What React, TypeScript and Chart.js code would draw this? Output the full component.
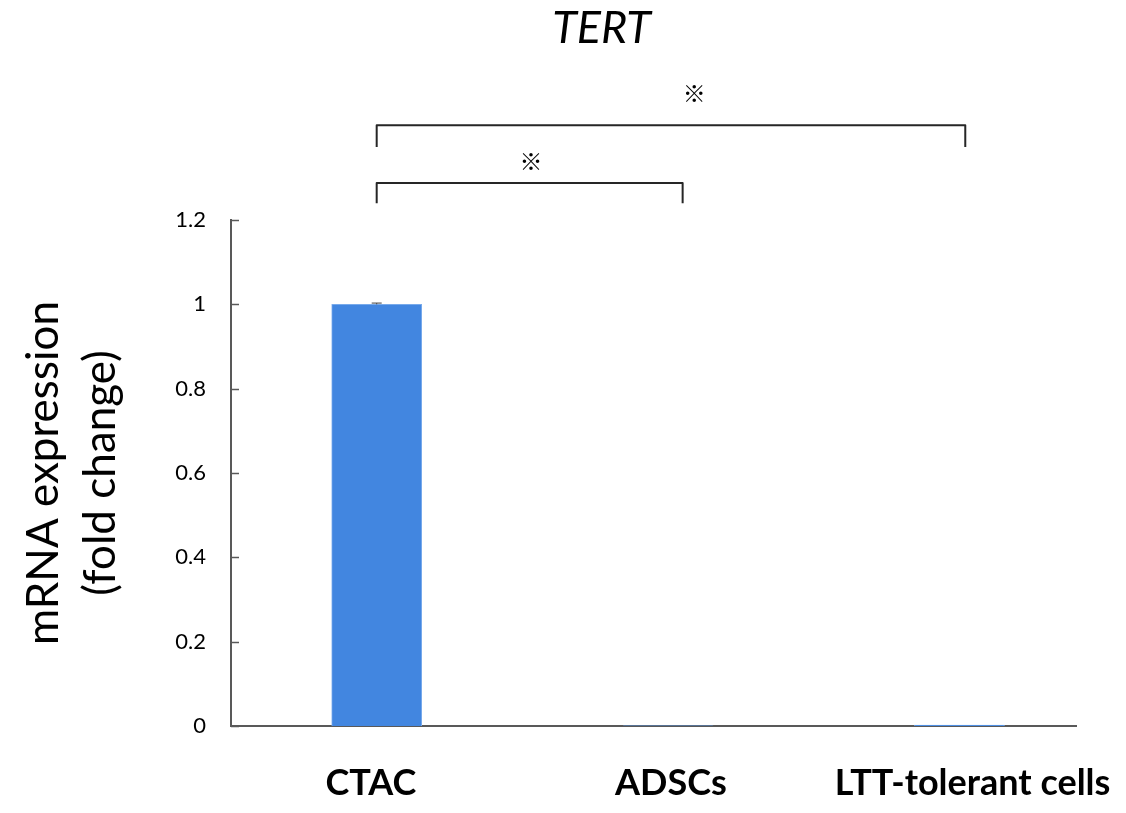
import React, { useEffect, useRef } from 'react';
import { Chart, registerables } from 'chart.js';

Chart.register(...registerables);

const titleText = 'TERT';
const categories = ['CTAC', 'ADSCs', 'LTT-tolerant cells'];
const categoryPositions = [0, 1, 2];
const labelPositions = [-0.02, 1.01, 2.045];
const values = [1, 0.0003, 0.002];
const errors = [0.003, 0, 0];
const yTickValues = [0, 0.2, 0.4, 0.6, 0.8, 1, 1.2];
const yAxisTitle = ['mRNA expression', '(fold change)'];

// significance brackets (data units)
const bracketFrom = [0, 0];
const bracketTo = [1.05, 2.02];
const bracketTop = [1.288, 1.425];
const bracketLegEnd = [1.24, 1.373];
const bracketMarkX = [0.53, 1.09];
const bracketMarkY = [1.34, 1.501];
const bracketMark = ['※', '※'];

const FONT = 'Lato, "Noto Sans", sans-serif';

const overlayPlugin = {
  id: 'overlay',
  afterDatasetsDraw(chart: any) {
    const { ctx, scales, chartArea } = chart;
    const xs = scales.x;
    const ys = scales.y;
    ctx.save();
    // inward y tick marks
    ctx.strokeStyle = '#595959';
    ctx.lineWidth = 1.5;
    yTickValues.forEach((v) => {
      const py = Math.round(ys.getPixelForValue(v)) + 0.5;
      ctx.beginPath();
      ctx.moveTo(chartArea.left, py);
      ctx.lineTo(chartArea.left + 8, py);
      ctx.stroke();
    });
    // error bars
    ctx.strokeStyle = '#404040';
    ctx.lineWidth = 1;
    values.forEach((v, i) => {
      if (!errors[i]) return;
      const px = xs.getPixelForValue(categoryPositions[i]);
      const top = ys.getPixelForValue(v + errors[i]);
      const mid = ys.getPixelForValue(v);
      ctx.beginPath();
      ctx.moveTo(px, mid);
      ctx.lineTo(px, top);
      ctx.moveTo(px - 5, top);
      ctx.lineTo(px + 5, top);
      ctx.stroke();
    });
    // brackets
    ctx.strokeStyle = '#262626';
    ctx.lineWidth = 2;
    ctx.lineJoin = 'round';
    bracketFrom.forEach((f, i) => {
      const x1 = xs.getPixelForValue(f);
      const x2 = xs.getPixelForValue(bracketTo[i]);
      const yT = ys.getPixelForValue(bracketTop[i]);
      const yL = ys.getPixelForValue(bracketLegEnd[i]);
      ctx.beginPath();
      ctx.moveTo(x1, yL);
      ctx.lineTo(x1, yT);
      ctx.lineTo(x2, yT);
      ctx.lineTo(x2, yL);
      ctx.stroke();
      ctx.fillStyle = '#000';
      ctx.font = '23px "Noto Sans CJK JP", "DejaVu Sans", sans-serif';
      ctx.textAlign = 'center';
      ctx.textBaseline = 'middle';
      ctx.fillText(bracketMark[i], xs.getPixelForValue(bracketMarkX[i]), ys.getPixelForValue(bracketMarkY[i]));
    });
    // title
    ctx.fillStyle = '#000';
    ctx.font = 'italic 45px ' + FONT;
    ctx.textAlign = 'center';
    ctx.textBaseline = 'middle';
    ctx.fillText(titleText, (chartArea.left + chartArea.right) / 2 - 52, 20);
    ctx.restore();
  },
};

export default function App() {
  const ref = useRef<HTMLCanvasElement>(null);
  useEffect(() => {
    if (!ref.current) return;
    const chart = new Chart(ref.current, {
      type: 'bar',
      data: {
        datasets: [
          {
            data: categoryPositions.map((x, i) => ({ x, y: values[i] })),
            backgroundColor: 'rgb(66,134,224)',
            borderColor: 'rgb(120,170,235)',
            borderWidth: 1,
            barThickness: 90,
          },
        ],
      },
      options: {
        responsive: false,
        animation: false,
        layout: { padding: { top: 212, right: 42, left: 0, bottom: 0 } },
        plugins: { legend: { display: false }, tooltip: { enabled: false }, title: { display: false } },
        scales: {
          x: {
            type: 'linear',
            offset: false,
            bounds: 'data',
            grace: 0,
            min: -0.5,
            max: 2.4,
            afterDataLimits: (scale: any) => {
              scale.min = -0.5;
              scale.max = 2.4;
            },
            afterBuildTicks: (scale: any) => {
              scale.ticks = labelPositions.map((v) => ({ value: v }));
            },
            afterFit: (scale: any) => {
              scale.height = 79;
              scale.paddingLeft = 0;
              scale.paddingRight = 0;
            },
            grid: { display: false, drawTicks: false, offset: false },
            border: { display: true, color: '#595959', width: 2 },
            ticks: {
              padding: 36,
              autoSkip: false,
              maxRotation: 0,
              color: '#000',
              font: { family: FONT, size: 36, weight: 'bold' },
              callback: (v: any) => {
                const i = labelPositions.indexOf(Number(v));
                return i >= 0 ? categories[i] : '';
              },
            },
          },
          y: {
            min: 0,
            max: 1.2,
            afterBuildTicks: (scale: any) => {
              scale.ticks = yTickValues.map((v) => ({ value: v }));
            },
            afterFit: (scale: any) => {
              scale.width = 223;
            },
            grid: { display: false, drawTicks: false },
            border: { display: true, color: '#595959', width: 2 },
            ticks: {
              padding: 25,
              color: '#000',
              font: { family: FONT, size: 22 },
              callback: (v: any) => String(Math.round(Number(v) * 10) / 10),
            },
            title: {
              display: true,
              text: yAxisTitle,
              color: '#000',
              font: { family: FONT, size: 44, lineHeight: 1.3 },
              padding: { top: 7, bottom: 0 },
            },
          },
        },
      },
      plugins: [overlayPlugin],
    });
    return () => chart.destroy();
  }, []);
  return (
    <div style={{ width: 1110, height: 797 }}>
      <canvas ref={ref} width={1110} height={797} style={{ display: 'block' }} />
    </div>
  );
}
